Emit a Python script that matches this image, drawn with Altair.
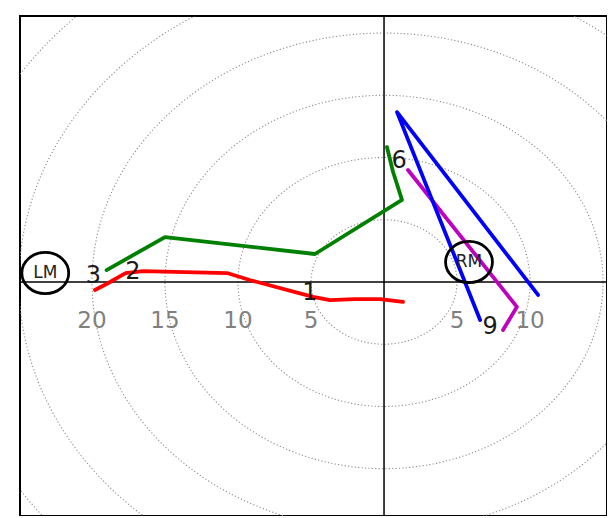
import numpy as np
import pandas as pd
import altair as alt

# ---- data (u, v in kt) ----
red_u = [-19.8, -19.0, -17.7, -16.5, -10.75, -9.2, -4.86, -3.7, -2.0, -0.27, 1.3]
red_v = [-0.64, -0.16, 0.72, 0.88, 0.72, 0.16, -1.2, -1.45, -1.37, -1.37, -1.6]

green_u = [-19.0, -15.0, -4.73, 1.23, 0.62, 0.2]
green_v = [0.96, 3.6, 2.25, 6.6, 8.84, 10.84]

magenta_u = [1.64, 9.1, 8.15]
magenta_v = [9.0, -2.0, -3.86]

blue_u = [6.58, 0.89, 10.55]
blue_v = [-3.05, 13.65, -1.04]

height_labels = ["1", "2", "3", "6", "9"]
height_u = [-5.07, -17.2, -19.9, 1.03, 7.26]
height_v = [-0.85, 0.84, 0.48, 9.7, -3.6]

tick_vals = [-20, -15, -10, -5, 5, 10]
tick_text = ["20", "15", "10", "5", "5", "10"]
tick_v = -3.15

ring_radii = [5, 10, 15, 20, 25, 30]

motion_labels = ["LM", "RM"]
motion_u = [-23.2, 5.82]
motion_v = [0.72, 1.6]

# ---- scales ----
xs = alt.Scale(domain=[-24.93, 15.27], nice=False, zero=False)
ys = alt.Scale(domain=[-18.8, 21.37], nice=False, zero=False)

def X(f="u"):
    return alt.X(f"{f}:Q", scale=xs, axis=None)

def Y(f="v"):
    return alt.Y(f"{f}:Q", scale=ys, axis=None)

# rings (grid)
t = np.linspace(0, 2 * np.pi, 361)
ring_rows = []
for r in ring_radii:
    for i, a in enumerate(t):
        ring_rows.append({"r": r, "i": i, "u": r * np.cos(a), "v": r * np.sin(a)})
ring_df = pd.DataFrame(ring_rows)

rings = alt.Chart(ring_df).mark_line(
    color="#8c8c8c", strokeWidth=1.1, strokeDash=[1.2, 2.2], clip=True
).encode(x=X(), y=Y(), detail="r:N", order="i:Q")

vline = alt.Chart(pd.DataFrame({"u": [0]})).mark_rule(color="black", strokeWidth=1.5).encode(x=X())
hline = alt.Chart(pd.DataFrame({"v": [0]})).mark_rule(color="black", strokeWidth=1.5).encode(y=Y())

ticks = alt.Chart(pd.DataFrame({"u": tick_vals, "v": [tick_v] * len(tick_vals), "t": tick_text})).mark_text(
    color="#808080", fontSize=23, font="DejaVu Sans", baseline="middle", align="center"
).encode(x=X(), y=Y(), text="t:N")

def seg(us, vs, color):
    df = pd.DataFrame({"u": us, "v": vs, "i": list(range(len(us)))})
    return alt.Chart(df).mark_line(color=color, strokeWidth=3.8, clip=True,
                                   strokeCap="round", strokeJoin="round").encode(
        x=X(), y=Y(), order="i:Q")

red = seg(red_u, red_v, "#ff0000")
green = seg(green_u, green_v, "#008000")
magenta = seg(magenta_u, magenta_v, "#bf00bf")
blue = seg(blue_u, blue_v, "#0000ff")

hlabels = alt.Chart(pd.DataFrame({"u": height_u, "v": height_v, "t": height_labels})).mark_text(
    color="#1a1a1a", fontSize=24, font="DejaVu Sans", baseline="middle", align="center"
).encode(x=X(), y=Y(), text="t:N")

ellipse = "M -1 0 A 1 0.88 0 1 0 1 0 A 1 0.88 0 1 0 -1 0 Z"
mdf = pd.DataFrame({"u": motion_u, "v": motion_v, "t": motion_labels})
mcirc = alt.Chart(mdf).mark_point(
    shape=ellipse, filled=False, color="black", strokeWidth=2.8, size=2200, opacity=1
).encode(x=X(), y=Y())
mtext = alt.Chart(mdf).mark_text(
    color="#222222", fontSize=17, font="DejaVu Sans", baseline="middle", align="center"
).encode(x=X(), y=Y(), text="t:N")

chart = alt.layer(rings, vline, hline, ticks, red, green, magenta, blue, hlabels, mcirc, mtext).properties(
    width=587, height=500,
    autosize=alt.AutoSizeParams(type="none"),
    padding={"left": 12, "top": 8, "right": 0, "bottom": 0},
    background="white",
).configure_view(stroke="black", strokeWidth=2)

chart.save("out.html", embed_options={"renderer": "svg", "actions": False})
